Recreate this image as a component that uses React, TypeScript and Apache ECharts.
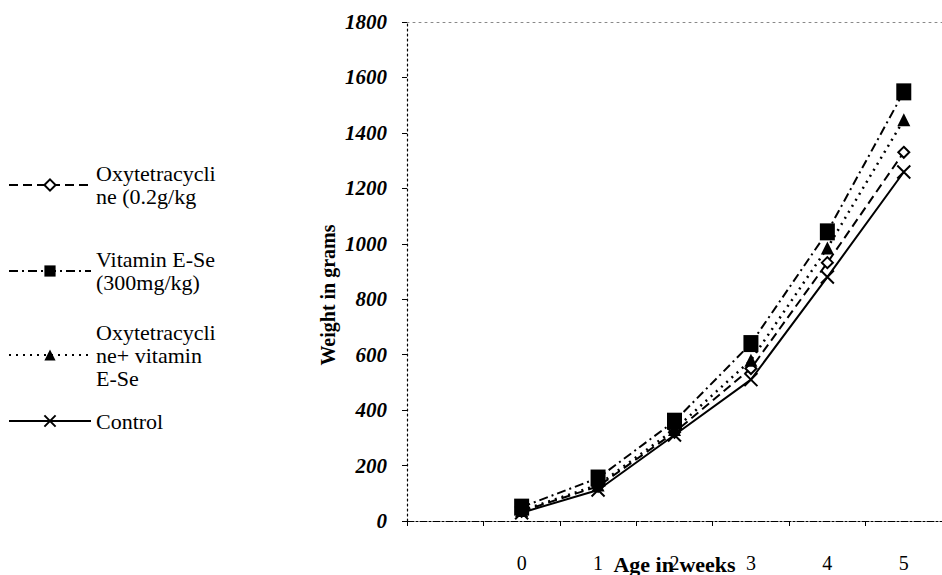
import React, { useEffect, useRef } from 'react';
import * as echarts from 'echarts';

const weeks = ['', '0', '1', '2', '3', '4', '5'];
const oxytetracycline = [null, 35, 125, 320, 550, 932, 1330];
const vitaminESe = [null, 50, 155, 360, 640, 1043, 1548];
const oxyPlusVitamin = [null, 38, 130, 330, 580, 985, 1447];
const control = [null, 30, 112, 310, 510, 880, 1259];

const seriesNames = [
  'Oxytetracycline (0.2g/kg',
  'Vitamin E-Se (300mg/kg)',
  'Oxytetracycline+ vitamin E-Se',
  'Control',
];
const legendLabels = [
  'Oxytetracycli\nne (0.2g/kg',
  'Vitamin E-Se\n(300mg/kg)',
  'Oxytetracycli\nne+ vitamin\nE-Se',
  'Control',
];
const legendCenters = [185, 271, 355, 421];

const yMax = 1800;
const yInterval = 200;

const FONT = 'Liberation Serif';

export default function App() {
  const ref = useRef<HTMLDivElement>(null);
  useEffect(() => {
    document.body.style.margin = '0';
    const chart = echarts.init(ref.current!, null, { renderer: 'svg' });
    const LH = 23;
    const legends = seriesNames.map((name, i) => {
      const n = legendLabels[i].split('\n').length;
      const H = (2 * n - 1) * LH;
      return {
        data: [name],
        left: 8,
        top: legendCenters[i] - H / 2,
        padding: 0,
        itemWidth: 82,
        itemHeight: 14,
        selectedMode: false,
        formatter: () => legendLabels[i],
        textStyle: {
          fontFamily: FONT,
          fontSize: 22,
          lineHeight: LH,
          color: '#000',
          padding: [(n - 1) * LH, 0, 0, 0],
        },
      };
    });
    const lineBase = { color: '#000', width: 2 };
    chart.setOption({
      animation: false,
      backgroundColor: '#fff',
      grid: { left: 407, right: 0, top: 22, bottom: 54, outerBoundsMode: 'none', containLabel: false },
      legend: legends,
      graphic: [
        {
          type: 'text',
          x: 328,
          y: 295,
          rotation: Math.PI / 2,
          style: {
            text: 'Weight in grams',
            fontFamily: FONT,
            fontSize: 20,
            fontWeight: 'bold',
            fill: '#000',
            align: 'center',
            verticalAlign: 'middle',
          },
        },
      ],
      xAxis: [
        {
          type: 'category',
          data: weeks,
          boundaryGap: true,
          position: 'bottom',
          name: 'Age in weeks',
          nameLocation: 'middle',
          nameGap: 32,
          nameMoveOverlap: false,
          nameTextStyle: { fontFamily: FONT, fontSize: 22, fontWeight: 'bold', color: '#000' },
          axisLine: { lineStyle: { color: '#000', width: 1.2, type: [7, 2, 2, 2] } },
          axisTick: { show: true, length: 5, interval: 0, lineStyle: { color: '#000' } },
          axisLabel: { fontFamily: FONT, fontSize: 20, color: '#000', margin: 32, interval: 0 },
          splitLine: { show: false },
        },
        {
          type: 'category',
          data: weeks,
          position: 'top',
          axisLine: { lineStyle: { color: '#888', width: 1, type: [2, 4] } },
          axisTick: { show: false },
          axisLabel: { show: false },
        },
      ],
      yAxis: {
        type: 'value',
        min: 0,
        max: yMax,
        interval: yInterval,
        axisLine: { show: true, lineStyle: { color: '#000', width: 1.2, type: [2, 3] } },
        axisTick: { show: true, length: 5, lineStyle: { color: '#000' } },
        axisLabel: {
          fontFamily: FONT,
          fontSize: 21,
          fontWeight: 'bold',
          fontStyle: 'italic',
          color: '#000',
          margin: 20,
          formatter: (v: number) => String(v),
        },
        splitLine: { show: false },
      },
      series: [
        {
          name: seriesNames[0],
          type: 'line',
          data: oxytetracycline,
          symbol: 'diamond',
          symbolSize: 11,
          lineStyle: { ...lineBase, type: [9, 5] },
          itemStyle: { color: '#fff', borderColor: '#000', borderWidth: 2 },
          z: 2,
        },
        {
          name: seriesNames[1],
          type: 'line',
          data: vitaminESe,
          symbol: 'rect',
          symbolSize: [15, 17],
          lineStyle: { ...lineBase, type: [9, 4, 2, 4] },
          itemStyle: { color: '#000', borderColor: '#000', borderWidth: 0 },
          z: 4,
        },
        {
          name: seriesNames[2],
          type: 'line',
          data: oxyPlusVitamin,
          symbol: 'triangle',
          symbolSize: 13,
          lineStyle: { ...lineBase, width: 2.5, type: [2, 5] },
          itemStyle: { color: '#000', borderColor: '#000', borderWidth: 0 },
          z: 3,
        },
        {
          name: seriesNames[3],
          type: 'line',
          data: control,
          symbol: 'path://M0,0L10,10M10,0L0,10',
          symbolSize: 13,
          lineStyle: { ...lineBase, type: 'solid' },
          itemStyle: { color: '#000', borderColor: '#000', borderWidth: 2 },
          z: 2,
        },
      ],
    });
    return () => chart.dispose();
  }, []);
  return <div ref={ref} style={{ width: 942, height: 575 }} />;
}
